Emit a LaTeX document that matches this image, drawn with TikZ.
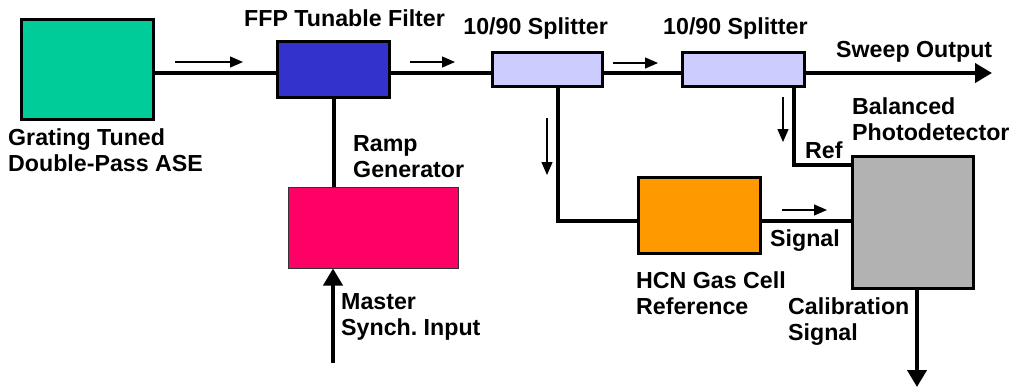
\documentclass[tikz,border=0pt]{standalone}
\usepackage{fontspec}
\setmainfont{Liberation Sans}
\usetikzlibrary{arrows.meta,calc}
\definecolor{cgreen}{HTML}{00CC99}
\definecolor{cblue}{HTML}{3333CC}
\definecolor{clight}{HTML}{CCCCFF}
\definecolor{cpink}{HTML}{FF0066}
\definecolor{corange}{HTML}{FF9900}
\definecolor{cgrey}{HTML}{B2B2B2}
\frenchspacing
\begin{document}
\begin{tikzpicture}[x=1pt,y=-1pt,
  box/.style={draw=black,line width=3pt,inner sep=0pt},
  lbl/.style={inner sep=0pt,align=left,font=\fontsize{23.2}{26}\selectfont\bfseries},
  wire/.style={line width=4pt},
  bigarrow/.style={line width=4pt,-{Triangle[length=17pt,width=19pt]}},
  smallarrow/.style={line width=1.3pt,-{Triangle[length=13pt,width=11pt]}}
]
\useasboundingbox (0,0) rectangle (1016,391);

% boxes
\node[box,fill=cgreen,minimum width=132pt,minimum height=100pt] (ase) at (87,69) {};
\node[box,fill=cblue,minimum width=112pt,minimum height=56pt] (ffp) at (333.5,69) {};
\node[box,fill=clight,minimum width=110pt,minimum height=34pt] (sp1) at (547.5,69) {};
\node[box,fill=clight,minimum width=122pt,minimum height=34pt] (sp2) at (743.5,69) {};
\node[draw=black!80,line width=1pt,fill=cpink,inner sep=0pt,minimum width=170pt,minimum height=81pt] (ramp) at (373,227.5) {};
\node[box,fill=corange,minimum width=122pt,minimum height=76pt] (hcn) at (699.5,215) {};
\node[box,fill=cgrey,minimum width=121pt,minimum height=132pt] (bpd) at (912.5,222) {};

% free ends
\coordinate (sweepend) at (992,73);
\coordinate (masterin) at (333,363);
\coordinate (calend) at (917,387);

% connectors
\draw[wire] ([yshift=-4pt]ase.east) -- ([yshift=-4pt]ffp.west);
\draw[wire] ([yshift=-4pt]ffp.east) -- ([yshift=-4pt]sp1.west);
\draw[wire] ([yshift=-4pt]sp1.east) -- ([yshift=-4pt]sp2.west);
\draw[bigarrow] ([yshift=-4pt]sp2.east) -- (sweepend);
\draw[wire] (ffp.south) -- (ffp.south |- ramp.north);
\draw[bigarrow] (masterin) -- (masterin |- ramp.south);
\draw[wire,line join=miter] ([xshift=10.5pt]sp1.south) |- ([yshift=-5.5pt]hcn.west);
\draw[wire] ([yshift=-6pt]hcn.east) -- ([yshift=-6pt]hcn.east -| bpd.west);
\draw[wire,line join=miter] ([xshift=50.5pt]sp2.south) |- ([yshift=-10pt]bpd.north west);
\draw[bigarrow] ([xshift=4.5pt]bpd.south) -- (calend);

% direction indicators
\coordinate (a1s) at (175,62); \coordinate (a1e) at (243,62);
\coordinate (a2s) at (410,62); \coordinate (a2e) at (455,62);
\coordinate (a3s) at (613,63); \coordinate (a3e) at (658,63);
\coordinate (a4s) at (547,118); \coordinate (a4e) at (547,175);
\coordinate (a5s) at (783,97); \coordinate (a5e) at (783,142);
\coordinate (a6s) at (782,210); \coordinate (a6e) at (827,210);
\draw[smallarrow] (a1s) -- (a1e);
\draw[smallarrow] (a2s) -- (a2e);
\draw[smallarrow] (a3s) -- (a3e);
\draw[smallarrow] (a4s) -- (a4e);
\draw[smallarrow] (a5s) -- (a5e);
\draw[smallarrow] (a6s) -- (a6e);

% labels (base anchor of a multi-line node = baseline of its last line)
\node[lbl,anchor=base west] (lase) at (8,171) {Grating Tuned\\Double-Pass ASE};
\node[lbl,anchor=base west] (lffp) at (244,26) {FFP Tunable Filter};
\node[lbl,anchor=base east] (lsp1) at (608,34) {10/90 Splitter};
\node[lbl,anchor=base west] (lsp2) at (663,34) {10/90 Splitter};
\node[lbl,anchor=base west] (lsweep) at (836,57) {Sweep Output};
\node[lbl,anchor=base west] (lbpd) at (852,140) {Balanced\\Photodetector};
\node[lbl,anchor=base west] (lref) at (805,158) {Ref};
\node[lbl,anchor=base west] (lramp) at (353,177) {Ramp\\Generator};
\node[lbl,anchor=base west] (lmaster) at (341,335) {Master\\Synch. Input};
\node[lbl,anchor=base west] (lsig) at (770,246) {Signal};
\node[lbl,anchor=base west] (lhcn) at (636,314) {HCN Gas Cell\\Reference};
\node[lbl,anchor=base west] (lcal) at (788,340) {Calibration\\Signal};
\end{tikzpicture}
\end{document}
